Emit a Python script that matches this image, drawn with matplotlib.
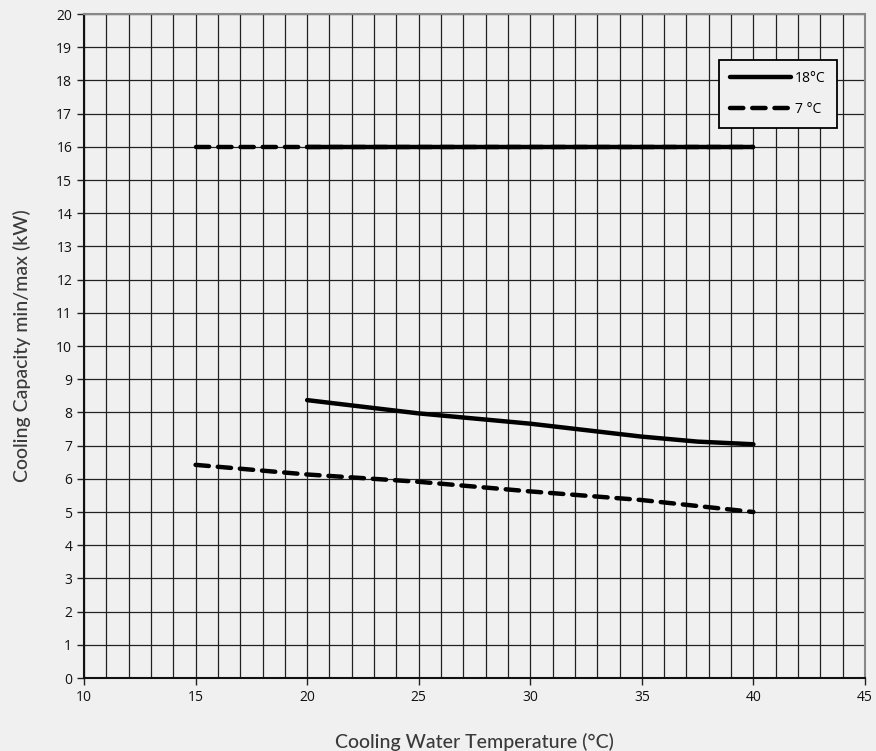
import matplotlib
matplotlib.use("Agg")
import matplotlib.pyplot as plt
import numpy as np

# Data
x18_min = [20, 25, 30, 35, 37.5, 40]
y18_min = [8.37, 7.97, 7.66, 7.27, 7.12, 7.04]
x18_max = [20, 40]
y18_max = [16, 16]
x7_min = [15, 20, 25, 30, 35, 40]
y7_min = [6.42, 6.13, 5.91, 5.62, 5.36, 5.0]
x7_max = [15, 40]
y7_max = [16, 16]
xticks = list(range(10, 46, 5))
yticks = list(range(0, 21, 1))
labels = ["18°C", "7 °C"]

bg = "#f0f0f0"
fig = plt.figure(figsize=(8.76, 7.51), dpi=100, facecolor=bg)
ax = fig.add_axes([84/876, 1-678/751, (865-84)/876, (678-14)/751])
ax.set_facecolor(bg)

ax.set_xlim(10, 45)
ax.set_ylim(0, 20)
ax.set_xticks(xticks)
ax.set_yticks(yticks)
ax.set_xticks(np.arange(10, 46, 1), minor=True)
ax.grid(True, which="both", color="#222222", linewidth=0.9)
ax.set_axisbelow(True)
ax.tick_params(axis="both", which="minor", length=0)
ax.tick_params(axis="both", which="major", length=5, width=1, color="#222222",
               labelsize=10, labelcolor="#111111", direction="out")
for lab in ax.get_xticklabels() + ax.get_yticklabels():
    lab.set_fontfamily("Open Sans")

for s in ["left", "bottom"]:
    ax.spines[s].set_color("#111111")
    ax.spines[s].set_linewidth(1.5)
for s in ["top", "right"]:
    ax.spines[s].set_color("#888888")
    ax.spines[s].set_linewidth(1.5)

l1, = ax.plot(x18_min, y18_min, color="black", lw=3.2, solid_capstyle="round", label=labels[0])
ax.plot(x18_max, y18_max, color="black", lw=3.2, solid_capstyle="round")
l2, = ax.plot(x7_min, y7_min, color="black", lw=3.2, dashes=(3, 2), dash_capstyle="round", label=labels[1])
ax.plot(x7_max, y7_max, color="black", lw=3.2, dashes=(3, 2), dash_capstyle="round")

leg = ax.legend(handles=[l1, l2], loc="upper right",
                bbox_to_anchor=((837-84)/781, (678-60)/664),
                frameon=True, fancybox=False, edgecolor="black", facecolor=bg, framealpha=1,
                handlelength=4.4, labelspacing=1.15, borderpad=0.8, handletextpad=0.3,
                borderaxespad=0, prop={"family": "Open Sans", "size": 10})
leg.get_frame().set_linewidth(1.3)

ax.set_xlabel("Cooling Water Temperature (°C)", fontsize=14, fontfamily="Lato",
              fontweight="medium", color="#3a3a3a", labelpad=20)
ax.set_ylabel("Cooling Capacity min/max (kW)", fontsize=14, fontfamily="Lato",
              fontweight="medium", color="#3a3a3a", labelpad=18)

fig.savefig("out.png", dpi=100, facecolor=bg)
